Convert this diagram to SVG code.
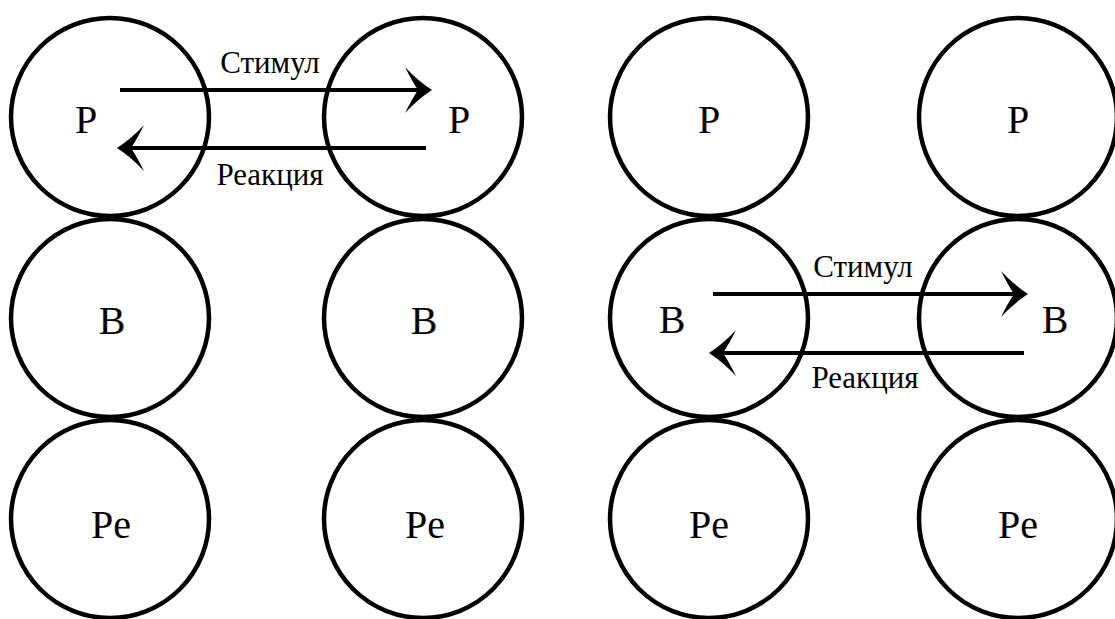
<svg xmlns="http://www.w3.org/2000/svg" width="1115" height="619" viewBox="0 0 1115 619">
<style>
.c{fill:none;stroke:#000;stroke-width:4.5}
.l{font-size:40px;fill:#000;text-anchor:middle}
.s{font-size:31px;fill:#000;text-anchor:middle}
.a{stroke:#000;stroke-width:4;fill:none;marker-end:url(#ah)}
</style>
<defs>
<marker id="ah" markerUnits="userSpaceOnUse" viewBox="-30 -25 32 50" refX="-13" refY="0" markerWidth="32" markerHeight="50" orient="auto">
<path d="M1,0 Q-13,-9 -26,-23 Q-19,-9 -13,0 Q-19,9 -26,23 Q-13,9 1,0 Z" fill="#000"/>
</marker>
</defs>
<rect width="1115" height="619" fill="#fff"/>
<g font-family="Liberation Serif, DejaVu Serif, serif">
<g id="n-p1"><circle class="c" cx="110" cy="117" r="99"/><text class="l" x="86" y="133">P</text></g>
<g id="n-p2"><circle class="c" cx="423" cy="117" r="99"/><text class="l" x="459" y="133">P</text></g>
<g id="n-b1"><circle class="c" cx="110" cy="318" r="99"/><text class="l" x="112" y="334">B</text></g>
<g id="n-b2"><circle class="c" cx="423" cy="318" r="99"/><text class="l" x="424" y="334">B</text></g>
<g id="n-pe1"><circle class="c" cx="110" cy="519" r="99"/><text class="l" x="111" y="538">Pe</text></g>
<g id="n-pe2"><circle class="c" cx="423" cy="519" r="99"/><text class="l" x="425" y="538">Pe</text></g>
<g id="n-p3"><circle class="c" cx="709" cy="117" r="99"/><text class="l" x="709" y="133">P</text></g>
<g id="n-p4"><circle class="c" cx="1018" cy="117" r="99"/><text class="l" x="1018" y="133">P</text></g>
<g id="n-b3"><circle class="c" cx="709" cy="318" r="99"/><text class="l" x="672" y="333">B</text></g>
<g id="n-b4"><circle class="c" cx="1018" cy="318" r="99"/><text class="l" x="1055" y="333">B</text></g>
<g id="n-pe3"><circle class="c" cx="709" cy="519" r="99"/><text class="l" x="709" y="538">Pe</text></g>
<g id="n-pe4"><circle class="c" cx="1018" cy="519" r="99"/><text class="l" x="1018" y="538">Pe</text></g>
<g id="connectors">
<line class="a" x1="120" y1="90" x2="418" y2="90"/>
<line class="a" x1="426" y1="148" x2="131" y2="148"/>
<line class="a" x1="713" y1="294" x2="1014" y2="294"/>
<line class="a" x1="1024" y1="353" x2="723" y2="353"/>
<text class="s" x="270" y="73">Стимул</text>
<text class="s" x="270" y="185">Реакция</text>
<text class="s" x="863" y="277">Стимул</text>
<text class="s" x="865" y="388">Реакция</text>
</g>
</g>
</svg>
